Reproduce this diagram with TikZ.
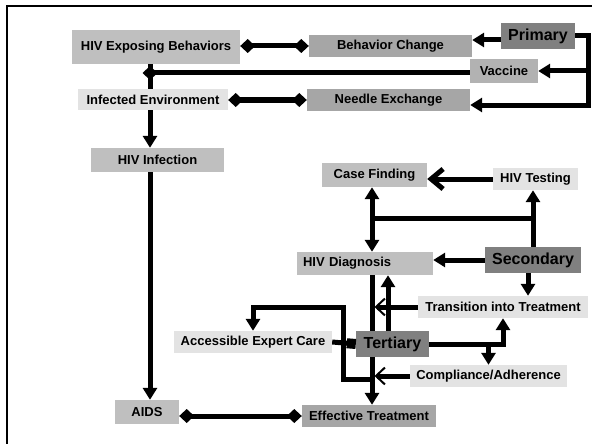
\documentclass[tikz,border=0pt]{standalone}
\usepackage{fontspec}
\setmainfont{Liberation Sans}
\usetikzlibrary{positioning,arrows.meta,calc}

\tikzset{
  box/.style={inner sep=0pt, font=\bfseries\fontsize{13}{15}\selectfont},
  dark/.style={box, fill=black!50, font=\bfseries\fontsize{16}{18}\selectfont},
  mid/.style={box, fill=black!35},
  lite/.style={box, fill=black!25},
  pale/.style={box, fill=black!11},
  link/.style={line width=5pt},
  arr/.style={link, -{Triangle[length=12pt,width=14pt]}},
  dd/.style={link, {Diamond[length=15pt,width=14pt]}-{Diamond[length=15pt,width=14pt]}},
  todia/.style={link, -{Diamond[length=15pt,width=14pt]}},
  barb/.style={link, -{Straight Barb[length=12pt,width=20pt]}},
  thinbarb/.style={link, -{Straight Barb[length=9pt,width=17pt,line width=2pt]}},
  sq/.style={link, -{Square[length=9pt,width=10pt]}}
}

\begin{document}
\begin{tikzpicture}[x=1pt,y=-1pt]
  \useasboundingbox (0,0) rectangle (592,444);
  \draw[line width=2pt] (7,444) -- (7,6) -- (592,6);

  \node[lite, minimum width=168pt, minimum height=34pt] (expo) at (156,47) {HIV Exposing Behaviors};
  \node[pale, minimum width=150pt, minimum height=21pt] (infenv) at (153,99.5) {Infected Environment};
  \node[lite, minimum width=133pt, minimum height=24pt] (hivinf) at (157.5,160) {HIV Infection};
  \node[lite, minimum width=64pt, minimum height=24pt] (aids) at (147,412) {AIDS};
  \node[mid, minimum width=163pt, minimum height=22pt] (behav) at (390.5,46) {Behavior Change};
  \node[dark, minimum width=74pt, minimum height=26pt] (primary) at (538,36) {Primary};
  \node[mid, fill=black!30, minimum width=68pt, minimum height=24pt] (vaccine) at (504,71) {Vaccine};
  \node[mid, minimum width=163pt, minimum height=22pt] (needle) at (388.5,100) {Needle Exchange};
  \node[lite, minimum width=105pt, minimum height=24pt] (casefind) at (374.5,175) {Case Finding};
  \node[pale, minimum width=85pt, minimum height=22pt] (hivtest) at (535.5,179) {HIV Testing};
  \node[lite, inner xsep=6pt, text width=124pt, align=left, minimum height=23pt] (diag) at (365,263.5) {HIV Diagnosis};
  \node[dark, minimum width=96pt, minimum height=26pt] (secondary) at (533,260) {Secondary};
  \node[pale, minimum width=170pt, minimum height=22pt] (transit) at (503,307) {Transition into Treatment};
  \node[pale, minimum width=158pt, minimum height=22pt] (access) at (253,342) {Accessible Expert Care};
  \node[dark, minimum width=73pt, minimum height=26pt] (tertiary) at (392.5,344) {Tertiary};
  \node[pale, minimum width=157pt, minimum height=22pt] (comply) at (488.5,376) {Compliance/Adherence};
  \node[mid, minimum width=134pt, minimum height=22pt] (efftreat) at (369,416) {Effective Treatment};

  \coordinate (spine) at (150,0);
  \coordinate (spineb) at (372,0);
  \coordinate (rim) at (588,0);

  % primary prevention
  \draw[link] (expo.south -| spine) -- (infenv.north -| spine);
  \draw[arr] (infenv.south -| spine) -- (hivinf.north -| spine);
  \draw[arr] (hivinf.south -| spine) -- (aids.north -| spine);
  \draw[dd] (behav.west) -- (behav.west -| expo.east);
  \draw[dd] (needle.west) -- (needle.west -| infenv.east);
  \draw[todia, shorten >=-7.5pt] ($(vaccine.west)+(0,2)$) -- ($(vaccine.west -| spine)+(0,2)$);
  \draw[arr] ($(primary.west)+(0,4)$) -- ($(primary.west -| behav.east)+(0,4)$);
  \draw[arr] (primary.east) -| ($(rim |- needle.east)+(0,5)$) -- ($(needle.east)+(0,5)$);
  \draw[arr] (rim |- vaccine.east) -- (vaccine.east);

  % secondary prevention
  \coordinate (fork) at ($(secondary.north)!.5!(secondary.north |- hivtest.south)$);
  \draw[arr] (secondary.north) -- (secondary.north |- hivtest.south);
  \draw[link] (fork) -- (fork -| spineb);
  \draw[arr] (fork -| spineb) -- (spineb |- casefind.south);
  \draw[arr] (fork -| spineb) -- (spineb |- diag.north);
  \draw[barb] (hivtest.west) -- (hivtest.west -| casefind.east);
  \draw[arr] (secondary.west) -- (secondary.west -| diag.east);
  \coordinate (sdrop) at ([xshift=-5pt]secondary.south);
  \draw[arr] (sdrop) -- (sdrop |- transit.north);

  % tertiary prevention
  \draw[link] (spineb |- diag.south) -- (spineb |- tertiary.north);
  \draw[arr] (spineb |- tertiary.south) -- (spineb |- efftreat.north);
  \draw[thinbarb, shorten >=2.5pt] (transit.west) -- (transit.west -| spineb);
  \draw[thinbarb, shorten >=2.5pt] (comply.west) -- (comply.west -| spineb);
  \coordinate (trise) at ([xshift=-4.5pt]tertiary.north);
  \draw[arr] (trise) -- (trise |- diag.south);
  \draw[arr] (tertiary.east) -| (transit.south);
  \draw[arr] (tertiary.east -| comply.north) -- (comply.north);
  \draw[sq] (access.east) -- (tertiary.west);
  \draw[arr] ($(comply.west -| spineb)+(0,3)$) -| ($(tertiary.west |- transit.west)+(-12,0)$) -| (access.north);
  \draw[dd] (efftreat.west) -- (efftreat.west -| aids.east);
\end{tikzpicture}
\end{document}
